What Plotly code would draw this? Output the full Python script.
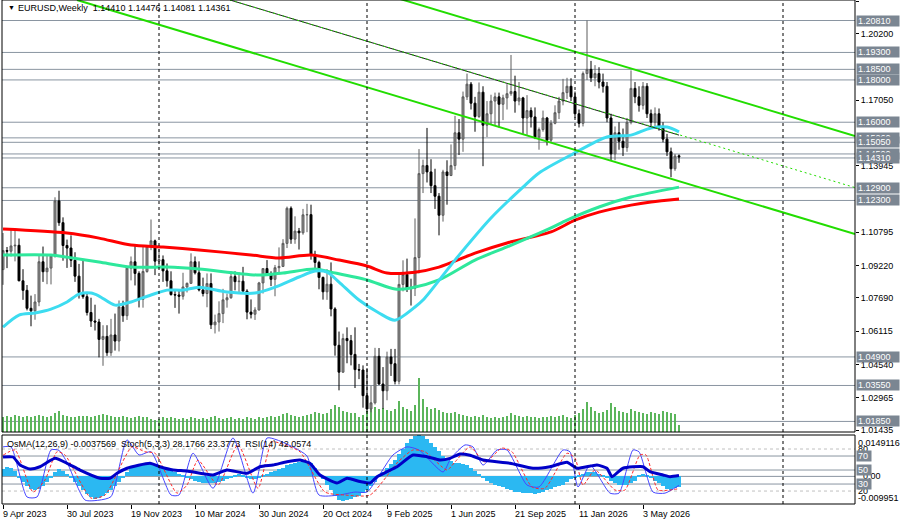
import plotly.graph_objects as go

FONT = "Liberation Sans"
FS = 9

# ---------------- data ----------------
tick_weeks = [0, 16, 32, 48, 64, 80, 96, 112, 128, 144, 160]
tick_dates = ["9 Apr 2023", "30 Jul 2023", "19 Nov 2023", "10 Mar 2024", "30 Jun 2024",
              "20 Oct 2024", "9 Feb 2025", "1 Jun 2025", "21 Sep 2025", "11 Jan 2026", "3 May 2026"]
year_sep_weeks = [39, 91, 143, 195]

opens = [1.0903, 1.0993, 1.0990, 1.1015, 1.1018, 1.0850, 1.0805, 1.0720, 1.0708, 1.0750,
         1.0940, 1.0893, 1.0910, 1.0968, 1.1228, 1.1125, 1.1017, 1.1005, 1.0947, 1.0872,
         1.0795, 1.0775, 1.0700, 1.0660, 1.0655, 1.0573, 1.0587, 1.0510, 1.0594, 1.0565,
         1.0727, 1.0685, 1.0910, 1.0940, 1.0885, 1.0762, 1.0894, 1.1013, 1.1039, 1.0943,
         1.0950, 1.0897, 1.0850, 1.0785, 1.0783, 1.0777, 1.0821, 1.0838, 1.0940, 1.0888,
         1.0807, 1.0790, 1.0837, 1.0642, 1.0655, 1.0695, 1.0760, 1.0770, 1.0870, 1.0846,
         1.0848, 1.0801, 1.0702, 1.0692, 1.0712, 1.0840, 1.0908, 1.0883, 1.0857, 1.0912,
         1.0918, 1.1027, 1.1193, 1.1047, 1.1085, 1.1077, 1.1162, 1.1163, 1.0975, 1.0937,
         1.0866, 1.0798, 1.0834, 1.0717, 1.0545, 1.0418, 1.0577, 1.0567, 1.0502, 1.0430,
         1.0428, 1.0307, 1.0244, 1.0273, 1.0493, 1.0362, 1.0330, 1.0490, 1.0458, 1.0375,
         1.0833, 1.0880, 1.0815, 1.0815, 1.0960, 1.1357, 1.1395, 1.1365, 1.1300, 1.1250,
         1.1160, 1.1365, 1.1348, 1.1395, 1.1550, 1.1520, 1.1720, 1.1780, 1.1690, 1.1627,
         1.1742, 1.1586, 1.1640, 1.1700, 1.1720, 1.1685, 1.1715, 1.1735, 1.1745, 1.1700,
         1.1715, 1.1620, 1.1655, 1.1625, 1.1530, 1.1565, 1.1620, 1.1515, 1.1595, 1.1645,
         1.1700, 1.1740, 1.1770, 1.1720, 1.1640, 1.1595, 1.1830, 1.1850, 1.1810, 1.1830,
         1.1790, 1.1770, 1.1620, 1.1450, 1.1550, 1.1510, 1.1480, 1.1600, 1.1760, 1.1720,
         1.1680, 1.1770, 1.1640, 1.1600, 1.1640, 1.1575, 1.1520, 1.1460, 1.1380, 1.14410]
highs = [1.1076, 1.1010, 1.1095, 1.1092, 1.1050, 1.0905, 1.0830, 1.0780, 1.0787, 1.0970,
         1.1012, 1.0975, 1.0975, 1.1245, 1.1276, 1.1150, 1.1045, 1.1065, 1.0985, 1.0930,
         1.0945, 1.0795, 1.0770, 1.0737, 1.0670, 1.0640, 1.0640, 1.0670, 1.0695, 1.0757,
         1.0756, 1.0914, 1.0965, 1.1017, 1.0895, 1.1010, 1.1013, 1.1140, 1.1045, 1.1000,
         1.0970, 1.0932, 1.0895, 1.0810, 1.0805, 1.0888, 1.0842, 1.0980, 1.0965, 1.0942,
         1.0865, 1.0885, 1.0885, 1.0690, 1.0753, 1.0812, 1.0790, 1.0895, 1.0895, 1.0890,
         1.0916, 1.0810, 1.0762, 1.0725, 1.0845, 1.0910, 1.0948, 1.0895, 1.0925, 1.1008,
         1.1047, 1.1201, 1.1202, 1.1155, 1.1100, 1.1190, 1.1214, 1.1210, 1.0992, 1.0945,
         1.0870, 1.0905, 1.0937, 1.0725, 1.0610, 1.0600, 1.0630, 1.0594, 1.0630, 1.0457,
         1.0450, 1.0437, 1.0353, 1.0533, 1.0532, 1.0442, 1.0515, 1.0528, 1.0528, 1.0889,
         1.0947, 1.0955, 1.0860, 1.1145, 1.1473, 1.1423, 1.1573, 1.1425, 1.1380, 1.1265,
         1.1375, 1.1420, 1.1495, 1.1630, 1.1615, 1.1745, 1.1830, 1.1790, 1.1720, 1.1788,
         1.1770, 1.1700, 1.1730, 1.1740, 1.1740, 1.1730, 1.1780, 1.1918, 1.1820, 1.1790,
         1.1720, 1.1728, 1.1670, 1.1670, 1.1575, 1.1655, 1.1625, 1.1610, 1.1680, 1.1720,
         1.1805, 1.1810, 1.1808, 1.1745, 1.1660, 1.1840, 1.2081, 1.1890, 1.1870, 1.1860,
         1.1830, 1.1790, 1.1640, 1.1580, 1.1600, 1.1570, 1.1620, 1.1845, 1.1790, 1.1770,
         1.1790, 1.1785, 1.1660, 1.1670, 1.1665, 1.1600, 1.1545, 1.1480, 1.1450, 1.14476]
lows = [1.0831, 1.0910, 1.0965, 1.0942, 1.0848, 1.0760, 1.0710, 1.0635, 1.0666, 1.0730,
        1.0845, 1.0834, 1.0833, 1.0960, 1.1110, 1.0945, 1.0911, 1.0915, 1.0845, 1.0766,
        1.0765, 1.0686, 1.0632, 1.0615, 1.0488, 1.0448, 1.0495, 1.0495, 1.0520, 1.0516,
        1.0656, 1.0665, 1.0852, 1.0828, 1.0724, 1.0723, 1.0888, 1.0995, 1.0877, 1.0920,
        1.0845, 1.0822, 1.0780, 1.0722, 1.0695, 1.0761, 1.0795, 1.0835, 1.0880, 1.0800,
        1.0776, 1.0725, 1.0622, 1.0601, 1.0610, 1.0650, 1.0723, 1.0765, 1.0805, 1.0788,
        1.0800, 1.0668, 1.0672, 1.0665, 1.0710, 1.0790, 1.0880, 1.0825, 1.0777, 1.0880,
        1.0915, 1.1005, 1.1025, 1.1025, 1.0998, 1.1068, 1.1080, 1.0950, 1.0900, 1.0810,
        1.0761, 1.0760, 1.0682, 1.0496, 1.0332, 1.0415, 1.0460, 1.0450, 1.0343, 1.0385,
        1.0250, 1.0230, 1.0228, 1.0265, 1.0358, 1.0245, 1.0285, 1.0400, 1.0360, 1.0360,
        1.0800, 1.0797, 1.0733, 1.0778, 1.0885, 1.1265, 1.1315, 1.1265, 1.1190, 1.1065,
        1.1130, 1.1210, 1.1345, 1.1375, 1.1445, 1.1460, 1.1705, 1.1660, 1.1555, 1.1620,
        1.1392, 1.1530, 1.1590, 1.1585, 1.1575, 1.1610, 1.1660, 1.1725, 1.1645, 1.1680,
        1.1545, 1.1540, 1.1575, 1.1520, 1.1470, 1.1555, 1.1490, 1.1505, 1.1590, 1.1615,
        1.1680, 1.1710, 1.1700, 1.1620, 1.1575, 1.1580, 1.1800, 1.1790, 1.1770, 1.1760,
        1.1740, 1.1600, 1.1420, 1.1420, 1.1470, 1.1440, 1.1460, 1.1590, 1.1690, 1.1650,
        1.1660, 1.1620, 1.1570, 1.1580, 1.1560, 1.1505, 1.1440, 1.1340, 1.1370, 1.14081]
closes = [1.0993, 1.0990, 1.1015, 1.1018, 1.0850, 1.0805, 1.0720, 1.0708, 1.0750, 1.0940,
          1.0893, 1.0910, 1.0968, 1.1228, 1.1125, 1.1017, 1.1005, 1.0947, 1.0872, 1.0795,
          1.0775, 1.0700, 1.0660, 1.0655, 1.0573, 1.0587, 1.0510, 1.0594, 1.0565, 1.0727,
          1.0685, 1.0910, 1.0940, 1.0885, 1.0762, 1.0894, 1.1013, 1.1039, 1.0943, 1.0950,
          1.0897, 1.0850, 1.0785, 1.0783, 1.0777, 1.0821, 1.0838, 1.0940, 1.0888, 1.0807,
          1.0790, 1.0837, 1.0642, 1.0655, 1.0695, 1.0760, 1.0770, 1.0870, 1.0846, 1.0848,
          1.0801, 1.0702, 1.0692, 1.0712, 1.0840, 1.0908, 1.0883, 1.0857, 1.0912, 1.0918,
          1.1027, 1.1193, 1.1047, 1.1085, 1.1077, 1.1162, 1.1163, 1.0975, 1.0937, 1.0866,
          1.0798, 1.0834, 1.0717, 1.0545, 1.0418, 1.0577, 1.0567, 1.0502, 1.0430, 1.0428,
          1.0307, 1.0244, 1.0273, 1.0493, 1.0362, 1.0330, 1.0490, 1.0458, 1.0375, 1.0833,
          1.0880, 1.0815, 1.0815, 1.0960, 1.1357, 1.1395, 1.1365, 1.1300, 1.1250, 1.1160,
          1.1365, 1.1348, 1.1395, 1.1550, 1.1520, 1.1720, 1.1780, 1.1690, 1.1627, 1.1742,
          1.1586, 1.1640, 1.1700, 1.1720, 1.1685, 1.1715, 1.1735, 1.1745, 1.1700, 1.1715,
          1.1620, 1.1655, 1.1625, 1.1530, 1.1565, 1.1620, 1.1515, 1.1595, 1.1645, 1.1700,
          1.1740, 1.1770, 1.1720, 1.1640, 1.1595, 1.1830, 1.1850, 1.1810, 1.1830, 1.1790,
          1.1770, 1.1620, 1.1450, 1.1550, 1.1510, 1.1480, 1.1600, 1.1760, 1.1720, 1.1680,
          1.1770, 1.1640, 1.1600, 1.1640, 1.1575, 1.1520, 1.1460, 1.1380, 1.1440, 1.14361]
weeks = list(range(len(closes)))

volumes = [150, 160, 150, 170, 160, 150, 160, 150, 160, 170, 160, 150, 160,
           190, 210, 170, 160, 150, 150, 160, 160,
           160, 150, 160, 170, 180, 170, 160, 150, 150, 160, 150, 140, 150, 160, 150, 150, 130, 120,
           130, 150, 140, 150, 140, 130, 140, 130, 150, 140, 130, 140, 130, 150, 160, 140, 130, 140,
           150, 130, 140, 130, 150, 140, 130, 150,
           140, 150, 160, 150, 160, 180, 190, 170, 160, 150, 160, 170, 180, 200, 190, 180, 190, 230,
           270, 250, 210, 200, 190, 190, 150, 170, 210, 230, 250, 230, 240, 220, 210, 230,
           310, 250, 230, 210, 270, 540, 330, 250, 230, 240, 220, 200, 190, 190,
           200, 180, 170, 160, 150, 160, 150, 170, 150, 140, 150, 140, 150, 160, 190, 170, 160, 150,
           160, 150, 150, 140, 150, 150, 160, 150, 160, 170, 150, 140, 170,
           190, 230, 300, 250, 210, 190, 200, 220, 290, 250, 210, 200, 190, 230, 210, 200, 190, 180,
           200, 190, 180, 210, 200, 190, 180, 70]

# moving averages (sampled at weeks)
ma_red_weeks = [0, 16, 24, 32, 40, 49, 62, 69, 77, 84, 91, 96, 103, 109, 118, 126, 137, 143, 149, 157, 162, 169]
ma_red_vals = [1.1095, 1.1076, 1.1052, 1.1019, 1.1010, 1.0996, 1.0972, 1.0958, 1.0972, 1.0948, 1.0920,
               1.0887, 1.0891, 1.0915, 1.0981, 1.1029, 1.1081, 1.1137, 1.1175, 1.1208, 1.1223, 1.1237]
ma_green_weeks = [0, 12, 16, 24, 32, 41, 49, 64, 70, 78, 82, 91, 98, 102, 109, 118, 126, 137, 141, 149, 157, 169]
ma_green_vals = [1.0972, 1.0972, 1.0962, 1.0939, 1.0915, 1.0915, 1.0906, 1.0877, 1.0887, 1.0906, 1.0891,
                 1.0854, 1.0811, 1.0816, 1.0854, 1.0948, 1.1010, 1.1100, 1.1137, 1.1199, 1.1246, 1.1293]
ma_cyan_weeks = [0, 4, 8, 12, 16, 19, 22, 24, 28, 32, 37, 41, 45, 49, 56, 63, 68, 74, 78, 81, 84, 89,
                 94, 98, 103, 105, 113, 122, 130, 134, 142, 151, 157, 162, 166, 169]
ma_cyan_vals = [1.0631, 1.0688, 1.0698, 1.0716, 1.0750, 1.0787, 1.0792, 1.0778, 1.0735, 1.0750, 1.0783,
                1.0806, 1.0806, 1.0820, 1.0797, 1.0792, 1.0820, 1.0868, 1.0896, 1.0891, 1.0844, 1.0759,
                1.0698, 1.0664, 1.0726, 1.0759, 1.0948, 1.1147, 1.1293, 1.1360, 1.1445, 1.1530, 1.1539,
                1.1573, 1.1577, 1.1554]

# analyst trend lines (week, price)
trend_upper_w = [99.25, 213.0]
trend_upper_p = [1.2183, 1.1535]
trend_lower_w = [18.5, 213.0]
trend_lower_p = [1.2178, 1.1071]
trend_mid_w = [56.75, 169.0, 213.0]
trend_mid_p = [1.2178, 1.1539, 1.1291]

# horizontal levels
levels = [1.20810, 1.19300, 1.18500, 1.18000, 1.16000, 1.15260, 1.15050, 1.14500,
          1.14310, 1.12900, 1.12300, 1.04900, 1.03550, 1.01850]
price_ticks = [1.21730, 1.20200, 1.17050, 1.13945, 1.10795, 1.09220, 1.07690,
               1.06115, 1.04540, 1.02965, 1.01435]

# oscillators
osma = [2.5, 3.3, 3.0, 2.0,
        -0.5, -2, -3.5, -4.5, -5, -4.5, -3.5, -2, -0.5,
        1.5, 2.5, 2.0, 1.0,
        -0.5, -2, -3.5, -5, -6.5, -7.5, -8, -7.8, -7, -6, -5,
        -3.5, -2, -0.5, 1.5, 3,
        4, 4.5, 4.5, 4.5, 5, 4.5, 3.5,
        3, 2.5, 2, 1.5, 1, 0.5,
        -0.5, -1, -1.5, -2, -2.5, -2.5, -2.5, -2.5, -2, -1.5, -1, -0.5,
        0.5, 1, 0.5,
        -0.5, -1, -1, -0.5,
        0.5, 1, 1.5, 2, 2.5, 3, 4, 4.5, 5, 5.3, 5.5, 5.5, 5,
        3, 1, -1, -3, -5, -7, -8.5, -8.7, -8.5, -8, -7.5, -7, -6, -5,
        -3.5, -2,
        0.5, 1.5, 3, 4.5, 6, 8, 10, 12, 13.5, 14.5, 14.9, 14.5, 13.5, 12, 10.5, 9, 7.5, 6.5, 5.5,
        5, 5, 4.5, 4, 3, 2, 1,
        -0.5, -1.5, -2.5, -3, -3.5, -4, -4.5, -5, -5.5, -5.5, -6, -6, -6, -6.2, -6, -5.5, -5,
        -4.5, -4, -3.5, -3, -2, -1, -0.5,
        0.5, 1, 1.5, 1.5, 1.5, 1, 0.5,
        -0.5, -1.5, -2.5, -3, -3, -3, -2.5, -1.5,
        0.5, 1, 0.5,
        -0.5, -1.5, -2.5, -3.5, -4.5, -4.8, -4.3, -3.7569]  # x 0.001

stoch_k_w = [0, 2, 6, 8.5, 12, 14, 16, 20.5, 24, 27, 31, 34, 37, 42, 44, 47.5, 52.5, 57.5, 62.5, 66,
             68.5, 73, 76, 79, 84, 88, 91, 97.5, 101, 104, 110, 112, 115.5, 117.5, 120, 123.5, 126,
             131, 134, 140, 141.75, 143.75, 146.75, 151.75, 154, 157.5, 159, 162.5, 165.5, 169]
stoch_k_v = [83, 83, 11.5, 11.5, 78.6, 78, 61, 7.2, 7, 12, 93, 71.5, 76, 14.3, 14.3, 74, 24, 95.7, 17, 95.7,
             93, 81.4, 70, 14.3, 14.3, 18.6, 18.6, 71.5, 83, 78.6, 47.2, 67, 85.8, 83, 57, 78.6, 78.6,
             28.6, 25.8, 78.6, 76, 25.8, 57, 17, 17, 78.6, 76, 18.6, 17, 28.1766]
stoch_d_w = [0, 3, 7.5, 10.5, 13.5, 15.5, 22, 25.5, 32.25, 35.5, 38, 43.5, 46, 48.75, 53.75, 58.75,
             63.75, 67.25, 70.5, 74.25, 80.5, 85.5, 91.75, 98.75, 102.5, 105.5, 111, 113, 116.75,
             120.5, 124.75, 127.25, 132.25, 135.5, 141, 143, 145, 148, 153, 155.5, 159.25, 160.75,
             163.75, 166.75, 169]
stoch_d_v = [71, 78.6, 18.6, 35.8, 76, 71.5, 10, 14.3, 83, 76, 74, 17, 28.6, 64, 28.6, 85.8,
             24, 90, 85.8, 76, 18.6, 14.3, 14.3, 61.5, 78.6, 76, 50, 61.5, 83,
             61.5, 81.4, 76, 25.8, 24, 74, 67, 28.6, 50, 21.5, 21.5, 71.5, 71.5,
             21.5, 21.5, 23.3773]
rsi_w = [0, 2.5, 4.25, 6.75, 9.25, 13, 16, 19.25, 24.25, 26.75, 28.5, 31, 36.75, 39.25, 42.5, 46,
         52.5, 56, 61, 64.25, 67.5, 71, 74.25, 76.75, 79.25, 83.5, 86, 89.25, 91.75, 93.5, 96, 98.5,
         102.5, 106, 109.25, 111.75, 114.25, 116.75, 120, 126.75, 132.5, 136.75, 141, 143.5, 148.5,
         151, 152.25, 155, 160, 161.75, 165, 166.75, 169]
rsi_v = [68.6, 68.6, 57.2, 51.5, 54.7, 66.7, 59.6, 50, 38.2, 38.2, 45.3, 52.5, 59.6, 54.7, 50, 48.6,
         42.9, 50, 45.3, 54.7, 57.2, 61.9, 64.3, 59.6, 42.9, 31.5, 38.2, 33.6, 31.5, 40.5, 47.6, 54.7,
         71.4, 69, 64.3, 66.7, 72.9, 71, 64.3, 59.6, 52.5, 54.7, 61, 52.5, 57.2,
         52.5, 40.5, 52.5, 54.7, 47.6, 42.9, 40.5, 42.0574]

# ---------------- figure ----------------
PLOT_L, PLOT_R = 2, 855
PW = PLOT_R - PLOT_L
MAIN_DOM = [72 / 504, 1.0]
IND_DOM = [0.0, 69 / 504]
XR = [-0.25, 213.0]
LEVEL_COL = "#8a95a1"
BOX_COL = "#7b8692"

fig = go.Figure()

# volumes (base main axis)
fig.add_trace(go.Bar(x=weeks, y=volumes, xaxis="x", yaxis="y", width=0.25,
                     marker=dict(color="#5bb55b", line=dict(width=0)), showlegend=False, hoverinfo="skip"))

# MAs
fig.add_trace(go.Scatter(x=ma_red_weeks, y=ma_red_vals, xaxis="x", yaxis="y3", mode="lines",
                         line=dict(color="#ff0000", width=3, shape="spline", smoothing=0.8), showlegend=False))
fig.add_trace(go.Scatter(x=ma_green_weeks, y=ma_green_vals, xaxis="x", yaxis="y3", mode="lines",
                         line=dict(color="#2ee89c", width=3, shape="spline", smoothing=0.8), showlegend=False))
fig.add_trace(go.Scatter(x=ma_cyan_weeks, y=ma_cyan_vals, xaxis="x", yaxis="y3", mode="lines",
                         line=dict(color="#3ddcf0", width=3, shape="spline", smoothing=0.8), showlegend=False))

# candles
fig.add_trace(go.Candlestick(x=weeks, open=opens, high=highs, low=lows, close=closes,
                             xaxis="x", yaxis="y3", whiskerwidth=0,
                             increasing=dict(line=dict(color="#5c5c5c", width=1), fillcolor="#8e8e8e"),
                             decreasing=dict(line=dict(color="#000000", width=1), fillcolor="#000000"),
                             showlegend=False))

# trend lines
fig.add_trace(go.Scatter(x=trend_upper_w, y=trend_upper_p, xaxis="x", yaxis="y3", mode="lines",
                         line=dict(color="#22dd00", width=2), showlegend=False))
fig.add_trace(go.Scatter(x=trend_lower_w, y=trend_lower_p, xaxis="x", yaxis="y3", mode="lines",
                         line=dict(color="#22dd00", width=2), showlegend=False))
fig.add_trace(go.Scatter(x=trend_mid_w[:2], y=trend_mid_p[:2], xaxis="x", yaxis="y3", mode="lines",
                         line=dict(color="#202020", width=1), showlegend=False))
fig.add_trace(go.Scatter(x=trend_mid_w, y=trend_mid_p, xaxis="x", yaxis="y3", mode="lines",
                         line=dict(color="#22dd00", width=1, dash="2px,3px"), showlegend=False))

# indicator: OsMA histogram
fig.add_trace(go.Bar(x=weeks, y=[v / 1000 for v in osma], xaxis="x2", yaxis="y2", width=0.8,
                     marker=dict(color="#2bb8f2", line=dict(width=0)), showlegend=False))
fig.add_trace(go.Scatter(x=stoch_k_w, y=stoch_k_v, xaxis="x2", yaxis="y4", mode="lines",
                         line=dict(color="#4646ff", width=1, shape="spline", smoothing=0.6), showlegend=False))
fig.add_trace(go.Scatter(x=stoch_d_w, y=stoch_d_v, xaxis="x2", yaxis="y4", mode="lines",
                         line=dict(color="#ff2a2a", width=1, dash="3px,2px", shape="spline", smoothing=0.6),
                         showlegend=False))
fig.add_trace(go.Scatter(x=rsi_w, y=rsi_v, xaxis="x2", yaxis="y4", mode="lines",
                         line=dict(color="#0000c8", width=3, shape="spline", smoothing=0.5), showlegend=False))

shapes = []
for lv in levels:
    shapes.append(dict(type="line", xref="paper", x0=0, x1=1, yref="y3", y0=lv, y1=lv,
                       line=dict(color=LEVEL_COL, width=1), layer="below"))
for w in year_sep_weeks:
    shapes.append(dict(type="line", xref="x", x0=w, x1=w, yref="paper", y0=0, y1=1,
                       line=dict(color="#000000", width=1, dash="3px,3px"), layer="above"))
# indicator levels
for lv, dash, col in [(80, "3px,3px", "#c0c0c0"), (20, "3px,3px", "#c0c0c0"),
                      (70, "solid", LEVEL_COL), (50, "solid", LEVEL_COL), (30, "solid", LEVEL_COL)]:
    shapes.append(dict(type="line", xref="paper", x0=0, x1=1, yref="y4", y0=lv, y1=lv,
                       line=dict(color=col, width=1, dash=dash), layer="below"))
shapes.append(dict(type="line", xref="paper", x0=0, x1=1, yref="y2", y0=0, y1=0,
                   line=dict(color=LEVEL_COL, width=1), layer="below"))
# panel borders
shapes.append(dict(type="rect", xref="paper", yref="paper", x0=0, x1=1, y0=MAIN_DOM[0], y1=1,
                   line=dict(color="#000000", width=1)))
shapes.append(dict(type="rect", xref="paper", yref="paper", x0=0, x1=1, y0=0, y1=IND_DOM[1],
                   line=dict(color="#000000", width=1)))

ann = []
# level boxes
for lv in levels:
    ann.append(dict(xref="paper", x=1, xanchor="left", xshift=1, yref="y3", y=lv, yanchor="middle",
                    text=f"{lv:.5f}", showarrow=False, bgcolor=BOX_COL, width=40, height=8, borderpad=1,
                    align="left", font=dict(family=FONT, size=FS, color="#ffffff")))
# title
ann.append(dict(xref="paper", x=(6 - PLOT_L) / PW, xanchor="left", yref="paper", y=1, yanchor="top", yshift=-2,
                text="▼", showarrow=False, font=dict(family=FONT, size=7, color="#000000")))
ann.append(dict(xref="paper", x=(16 - PLOT_L) / PW, xanchor="left", yref="paper", y=1, yanchor="top", yshift=-1,
                text="EURUSD,Weekly\u00a0\u00a01.14410 1.14476 1.14081 1.14361", showarrow=False,
                font=dict(family=FONT, size=FS, color="#000000")))
# indicator title
ann.append(dict(xref="paper", x=(5 - PLOT_L) / PW, xanchor="left", yref="paper", y=IND_DOM[1], yanchor="top",
                yshift=-2,
                text="OsMA(12,26,9) -0.0037569\u00a0\u00a0Stoch(5,3,3) 28.1766 23.3773\u00a0\u00a0RSI(14) 42.0574",
                showarrow=False, font=dict(family=FONT, size=FS, color="#000000")))
# indicator scale
ann.append(dict(xref="paper", x=1, xanchor="left", xshift=1, yref="paper", y=IND_DOM[1], yanchor="top",
                yshift=-1, text="0.0149116", showarrow=False, font=dict(family=FONT, size=FS, color="#000000")))
ann.append(dict(xref="paper", x=1, xanchor="left", xshift=1, yref="y4", y=80, yanchor="middle",
                text="80", showarrow=False, font=dict(family=FONT, size=FS, color="#000000")))
ann.append(dict(xref="paper", x=1, xanchor="left", xshift=6, yref="y2", y=0, yanchor="middle",
                text="0.00", showarrow=False, font=dict(family=FONT, size=FS, color="#000000")))
ann.append(dict(xref="paper", x=1, xanchor="left", xshift=1, yref="y4", y=20, yanchor="middle",
                text="20", showarrow=False, font=dict(family=FONT, size=FS, color="#000000")))
ann.append(dict(xref="paper", x=1, xanchor="left", xshift=1, yref="paper", y=0, yanchor="bottom",
                yshift=-1, text="-0.009951", showarrow=False, font=dict(family=FONT, size=FS, color="#000000")))
for lv in [70, 50, 30]:
    ann.append(dict(xref="paper", x=1, xanchor="left", xshift=1, yref="y4", y=lv, yanchor="middle",
                    text=str(lv), showarrow=False, bgcolor=BOX_COL, width=12, height=8, borderpad=1,
                    align="left", font=dict(family=FONT, size=FS, color="#ffffff")))
# date labels
for w, d in zip(tick_weeks, tick_dates):
    ann.append(dict(xref="x2", x=w, xanchor="left", xshift=-2, yref="paper", y=0, yanchor="top", yshift=-3,
                    text=d, showarrow=False, font=dict(family=FONT, size=FS, color="#000000")))

fig.update_layout(
    width=900, height=524,
    margin=dict(l=PLOT_L, r=900 - PLOT_R, t=0, b=20),
    paper_bgcolor="#ffffff", plot_bgcolor="#ffffff",
    showlegend=False, bargap=0, hovermode=False,
    xaxis=dict(domain=[0, 1], anchor="y", range=XR, visible=False, rangeslider=dict(visible=False)),
    yaxis=dict(domain=MAIN_DOM, anchor="x", range=[0, 4320], visible=False),
    yaxis3=dict(overlaying="y", anchor="x", side="right", range=[1.0135, 1.2178],
                tickvals=price_ticks, ticktext=[f"{v:.5f}" for v in price_ticks],
                ticks="outside", ticklen=3, tickcolor="#000000",
                tickfont=dict(family=FONT, size=FS, color="#000000"),
                showgrid=False, zeroline=False, showline=False),
    xaxis2=dict(domain=[0, 1], anchor="y2", range=XR, matches="x", tickvals=tick_weeks,
                ticks="outside", ticklen=4, tickcolor="#000000", showticklabels=False,
                showgrid=False, zeroline=False, showline=False),
    yaxis2=dict(domain=IND_DOM, anchor="x2", range=[-0.009951, 0.0149116], visible=False),
    yaxis4=dict(overlaying="y2", anchor="x2", range=[1.5, 100], visible=False),
    shapes=shapes, annotations=ann,
)

fig.write_html("out.html")
